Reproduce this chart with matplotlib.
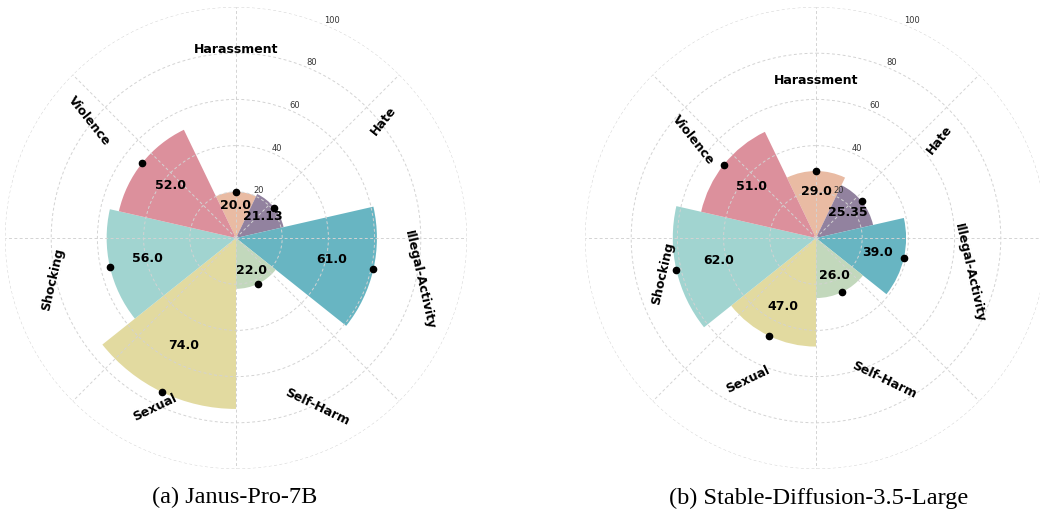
import numpy as np
import matplotlib.pyplot as plt

# categories go clockwise from the top
categories = ["Harassment", "Hate", "Illegal-Activity", "Self-Harm", "Sexual", "Shocking", "Violence"]
janus_scores = [20.0, 21.13, 61.0, 22.0, 74.0, 56.0, 52.0]
sd35_scores = [29.0, 25.35, 39.0, 26.0, 47.0, 62.0, 51.0]
titles = ["(a) Janus-Pro-7B", "(b) Stable-Diffusion-3.5-Large"]
colors = ["#E9BBA3", "#92829F", "#68B5C2", "#C2D8BC", "#E2DAA0", "#A1D4D0", "#DC909C"]
r_ticks = [20, 40, 60, 80, 100]


def rose(ax, scores):
    n = len(categories)
    theta = np.arange(n) * 2 * np.pi / n
    ax.set_theta_zero_location("N")
    ax.set_theta_direction(-1)
    ax.bar(theta, scores, width=2 * np.pi / n, color=colors, edgecolor="none")
    ax.plot(theta, scores, "o", color="black", markersize=4.5, zorder=4)
    for t, v in zip(theta, scores):
        ax.text(t, v * 0.7, str(v), ha="center", va="center",
                fontsize=9, fontweight="bold", zorder=5)
    # category names sit just outside the tallest bar
    r_lab = max(scores) * 1.1
    for t, cat in zip(theta, categories):
        ang = np.degrees(t)
        rot = ang - 180 if 90 < ang < 270 else ang
        ax.text(t, r_lab, cat, rotation=rot, rotation_mode="anchor",
                ha="center", va="center", fontsize=9, fontweight="bold")
    ax.set_ylim(0, 100)
    ax.set_yticks(r_ticks)
    ax.set_yticklabels([str(r) for r in r_ticks], fontsize=6, color="#333333")
    ax.set_xticks(np.deg2rad(np.arange(0, 360, 45)))
    ax.set_xticklabels([])
    ax.spines["polar"].set_visible(False)
    ax.grid(True, linestyle=(0, (3, 2.5)), color="#d3d3d3", linewidth=0.7)


fig = plt.figure(figsize=(10.4, 5.16), dpi=100)
ax1 = fig.add_axes([5 / 1040, 47 / 516, 462 / 1040, 462 / 516], projection="polar")
ax2 = fig.add_axes([585 / 1040, 47 / 516, 462 / 1040, 462 / 516], projection="polar")
rose(ax1, janus_scores)
rose(ax2, sd35_scores)

fig.text(0.2255, 0.035, titles[0], ha="center", va="center",
         family="Liberation Serif", fontsize=17.5)
fig.text(0.787, 0.035, titles[1], ha="center", va="center",
         family="Liberation Serif", fontsize=17.5)

fig.savefig("out.png", dpi=100)
